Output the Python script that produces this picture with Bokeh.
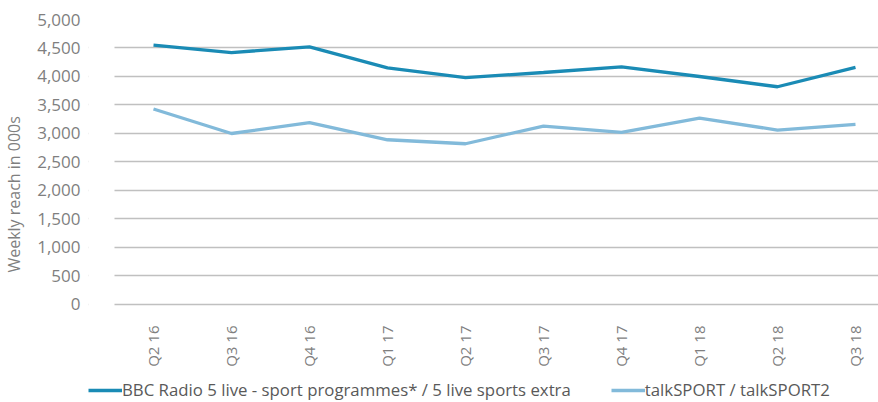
from bokeh.plotting import figure
from bokeh.models import Range1d, FixedTicker, NumeralTickFormatter, Legend, LegendItem, BoxAnnotation
from bokeh.embed import file_html
from bokeh.resources import INLINE
import math

quarters = ["Q2 16", "Q3 16", "Q4 16", "Q1 17", "Q2 17", "Q3 17", "Q4 17", "Q1 18", "Q2 18", "Q3 18"]
bbc5 = [4550, 4420, 4520, 4150, 3980, 4070, 4170, 4000, 3820, 4160]
talksport = [3430, 3000, 3190, 2890, 2820, 3130, 3020, 3270, 3060, 3160]
y_ticks = [0, 500, 1000, 1500, 2000, 2500, 3000, 3500, 4000, 4500, 5000]
series_names = ["BBC Radio 5 live - sport programmes* / 5 live sports extra", "talkSPORT / talkSPORT2"]
y_title = "Weekly reach in 000s"

xs = list(range(len(quarters)))

# frame spans the whole lower area so that the legend (drawn inside the frame) is visible
X0, X1 = -0.8333, 9.359
Y0, Y1 = -1719.3, 5000

p = figure(frame_width=795, frame_height=383, output_backend="svg", toolbar_location=None,
           x_range=Range1d(X0, X1), y_range=Range1d(Y0, Y1),
           min_border_left=83, min_border_right=0, min_border_top=19, min_border_bottom=0)
p.outline_line_color = None
p.background_fill_color = "white"
p.border_fill_color = "white"

FONT = "Open Sans"
GREY = "#7f7f7f"

l1 = p.line(xs, bbc5, line_color="#1a8bb5", line_width=3.3)
l2 = p.line(xs, talksport, line_color="#82bada", line_width=3.3)

p.xaxis.fixed_location = 0
p.xaxis.ticker = FixedTicker(ticks=xs)
p.xaxis.major_label_overrides = {i: q for i, q in enumerate(quarters)}
p.xaxis.major_label_orientation = math.pi / 2
p.xaxis.axis_line_color = None
p.xaxis.major_tick_line_color = None
p.xaxis.minor_tick_line_color = None
p.xaxis.major_label_text_font = FONT
p.xaxis.major_label_text_font_size = "15px"
p.xaxis.major_label_text_color = GREY
p.xaxis.major_label_standoff = 15
p.xgrid.grid_line_color = None

p.yaxis.ticker = FixedTicker(ticks=y_ticks)
p.yaxis.formatter = NumeralTickFormatter(format="0,0")
p.yaxis.axis_line_color = None
p.yaxis.major_tick_line_color = None
p.yaxis.minor_tick_line_color = None
p.yaxis.major_label_text_font = FONT
p.yaxis.major_label_text_font_size = "17px"
p.yaxis.major_label_text_color = GREY
p.yaxis.major_label_standoff = 2
p.yaxis.axis_label = "\u00a0" * 8 + y_title
p.yaxis.axis_label_text_font = FONT
p.yaxis.axis_label_text_font_size = "16px"
p.yaxis.axis_label_text_font_style = "normal"
p.yaxis.axis_label_text_color = GREY
p.yaxis.axis_label_standoff = 9
p.ygrid.grid_line_color = "#c0c0c0"
p.ygrid.grid_line_width = 1.6

# white margin to the left of the plot area, so the gridlines start at the first category band
p.add_layout(BoxAnnotation(left=X0, right=-0.5, bottom=-100, top=Y1 + 100,
                           fill_color="white", fill_alpha=1.0, line_color=None))

legend = Legend(items=[LegendItem(label=series_names[0], renderers=[l1]),
                       LegendItem(label=series_names[1], renderers=[l2])],
                orientation="horizontal", location=(0, 1),
                label_text_font=FONT, label_text_font_size="16.8px", label_text_color="#595959",
                glyph_width=34, glyph_height=14, spacing=40, label_standoff=0,
                border_line_color=None, background_fill_alpha=0, padding=0, margin=0)
p.add_layout(legend, "center")

open("out.html", "w").write(file_html(p, INLINE))
